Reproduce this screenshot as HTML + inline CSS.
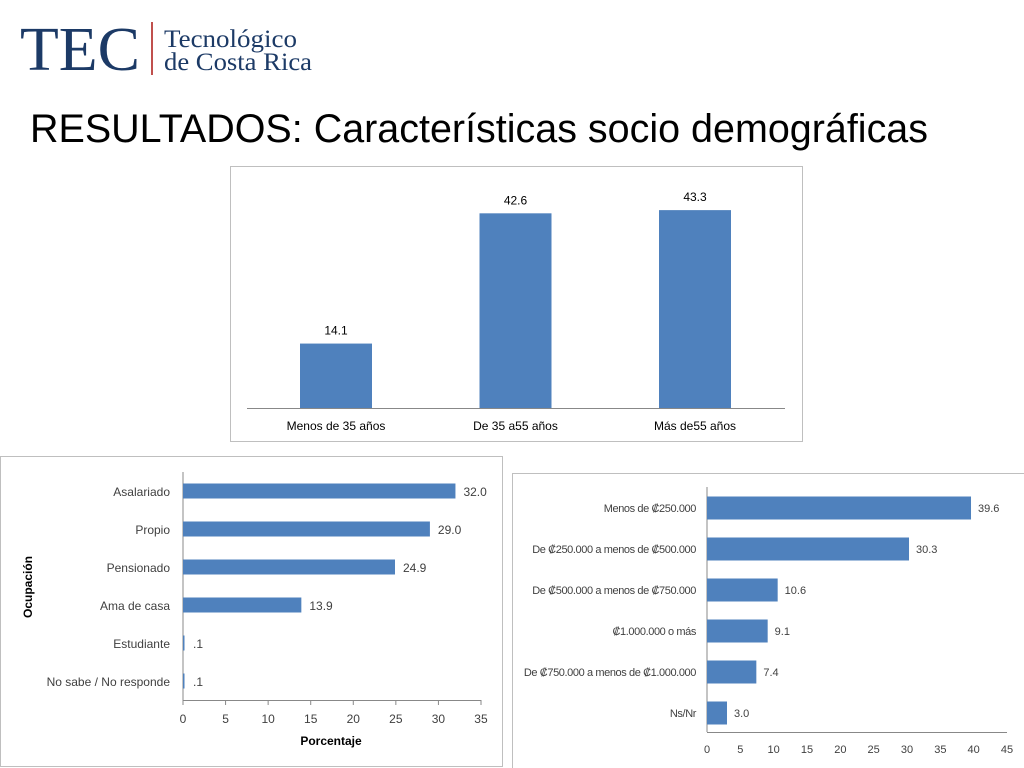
<!DOCTYPE html>
<html><head><meta charset="utf-8"><style>
html,body{margin:0;padding:0;background:#fff;}
svg{display:block;font-family:"Liberation Sans",sans-serif;}
</style></head><body>
<svg id="s" width="1024" height="768" viewBox="0 0 1024 768">
<g>
<text x="20" y="70" font-family="Liberation Serif,serif" font-size="62" fill="#1c3a66" textLength="120" lengthAdjust="spacingAndGlyphs">TEC</text>
<rect x="151" y="22" width="2" height="53" fill="#c0504d"/>
<text x="164" y="47" font-family="Liberation Serif,serif" font-size="25" fill="#1c3a66" textLength="133" lengthAdjust="spacingAndGlyphs">Tecnológico</text>
<text x="164" y="70" font-family="Liberation Serif,serif" font-size="25" fill="#1c3a66" textLength="148" lengthAdjust="spacingAndGlyphs">de Costa Rica</text>
</g>
<text x="30" y="142" font-size="40" fill="#000" textLength="898" lengthAdjust="spacingAndGlyphs">RESULTADOS:  Características socio demográficas</text>

<rect x="230.5" y="166.5" width="572" height="275" fill="#fff" stroke="#bfbfbf"/>
<rect x="0.5" y="456.5" width="502" height="310" fill="#fff" stroke="#bfbfbf"/>
<rect x="512.5" y="473.5" width="520" height="300" fill="#fff" stroke="#bfbfbf"/>
<g id="g1"></g><g id="g2"></g><g id="g3"></g>
</svg>
<script>
const ageCats=["Menos de 35 años","De 35 a55 años","Más de55 años"];
const ageVals=[14.1,42.6,43.3];
const occCats=["Asalariado","Propio","Pensionado","Ama de casa","Estudiante","No sabe / No responde"];
const occVals=[32.0,29.0,24.9,13.9,0.1,0.1];
const occLabels=["32.0","29.0","24.9","13.9",".1",".1"];
const occTicks=[0,5,10,15,20,25,30,35];
const incCats=["Menos de ₡250.000","De ₡250.000 a menos de ₡500.000","De ₡500.000 a menos de ₡750.000","₡1.000.000 o más","De ₡750.000  a menos de ₡1.000.000","Ns/Nr"];
const incVals=[39.6,30.3,10.6,9.1,7.4,3.0];
const incTicks=[0,5,10,15,20,25,30,35,40,45];
const NS="http://www.w3.org/2000/svg";
function mk(p,t,a,txt){const e=document.createElementNS(NS,t);for(const k in a)e.setAttribute(k,a[k]);if(txt!==undefined)e.textContent=txt;p.appendChild(e);return e;}
const BLUE="#4f81bd",TXT="#404040";
// age chart
(function(){const g=document.getElementById('g1');
const base=408,y=v=>base-v*4.57,cx=i=>336+i*179.5;
let e=mk(g,'line',{x1:247,x2:785,y1:base+0.5,y2:base+0.5,stroke:'#888'});


ageVals.forEach((v,i)=>{
let r=mk(g,'rect',{x:cx(i)-36,y:y(v),width:72,height:base-y(v),fill:BLUE});


let t=mk(g,'text',{x:cx(i),y:y(v)-9,'font-size':12,'text-anchor':'middle',fill:'#000'},v.toFixed(1));


let c=mk(g,'text',{x:cx(i),y:430,'font-size':12,'text-anchor':'middle',fill:'#000'},ageCats[i]);


});})();
// occupation chart
(function(){const g=document.getElementById('g2');
const x0=183,sx=v=>x0+v*8.514,cy=i=>491+i*38;
let a=mk(g,'line',{x1:x0,x2:x0,y1:472,y2:700,stroke:'#888'});


let b=mk(g,'line',{x1:x0,x2:sx(35),y1:700.5,y2:700.5,stroke:'#888'});


occTicks.forEach(t=>{mk(g,'line',{x1:sx(t),x2:sx(t),y1:700,y2:705,stroke:'#888'});
let l=mk(g,'text',{x:sx(t),y:723,'font-size':12,'text-anchor':'middle',fill:TXT},t);

});
occVals.forEach((v,i)=>{
let r=mk(g,'rect',{x:x0,y:cy(i)-7.5,width:Math.max(1.5,sx(v)-x0),height:15,fill:BLUE});


let t=mk(g,'text',{x:Math.max(sx(v),x0+2)+8,y:cy(i)+5,'font-size':12,fill:TXT},occLabels[i]);


let c=mk(g,'text',{x:170,y:cy(i)+5,'font-size':12,'text-anchor':'end',fill:TXT},occCats[i]);

});
let xt=mk(g,'text',{x:331,y:745,'font-size':12,'font-weight':'bold','text-anchor':'middle',fill:'#000'},'Porcentaje');


let yt=mk(g,'text',{x:0,y:0,'font-size':12,'font-weight':'bold','text-anchor':'middle',fill:'#000',transform:'translate(32,587) rotate(-90)'},'Ocupación');

})();
// income chart
(function(){const g=document.getElementById('g3');
const x0=707,sx=v=>x0+v*6.667,cy=i=>508+i*41,ax=732;
let a=mk(g,'line',{x1:x0,x2:x0,y1:487,y2:ax,stroke:'#888'});


let b=mk(g,'line',{x1:x0,x2:sx(45),y1:ax+0.5,y2:ax+0.5,stroke:'#888'});


incTicks.forEach(t=>{let l=mk(g,'text',{x:sx(t),y:753,'font-size':11,'text-anchor':'middle',fill:TXT},t);

});
incVals.forEach((v,i)=>{
let r=mk(g,'rect',{x:x0,y:cy(i)-11.5,width:sx(v)-x0,height:23,fill:BLUE});


let t=mk(g,'text',{x:sx(v)+7,y:cy(i)+4,'font-size':11,fill:TXT},v.toFixed(1));


let c=mk(g,'text',{x:696,y:cy(i)+4,'font-size':11,'text-anchor':'end',fill:TXT,'letter-spacing':'-0.4'},incCats[i]);

});})();
</script>
</body></html>
